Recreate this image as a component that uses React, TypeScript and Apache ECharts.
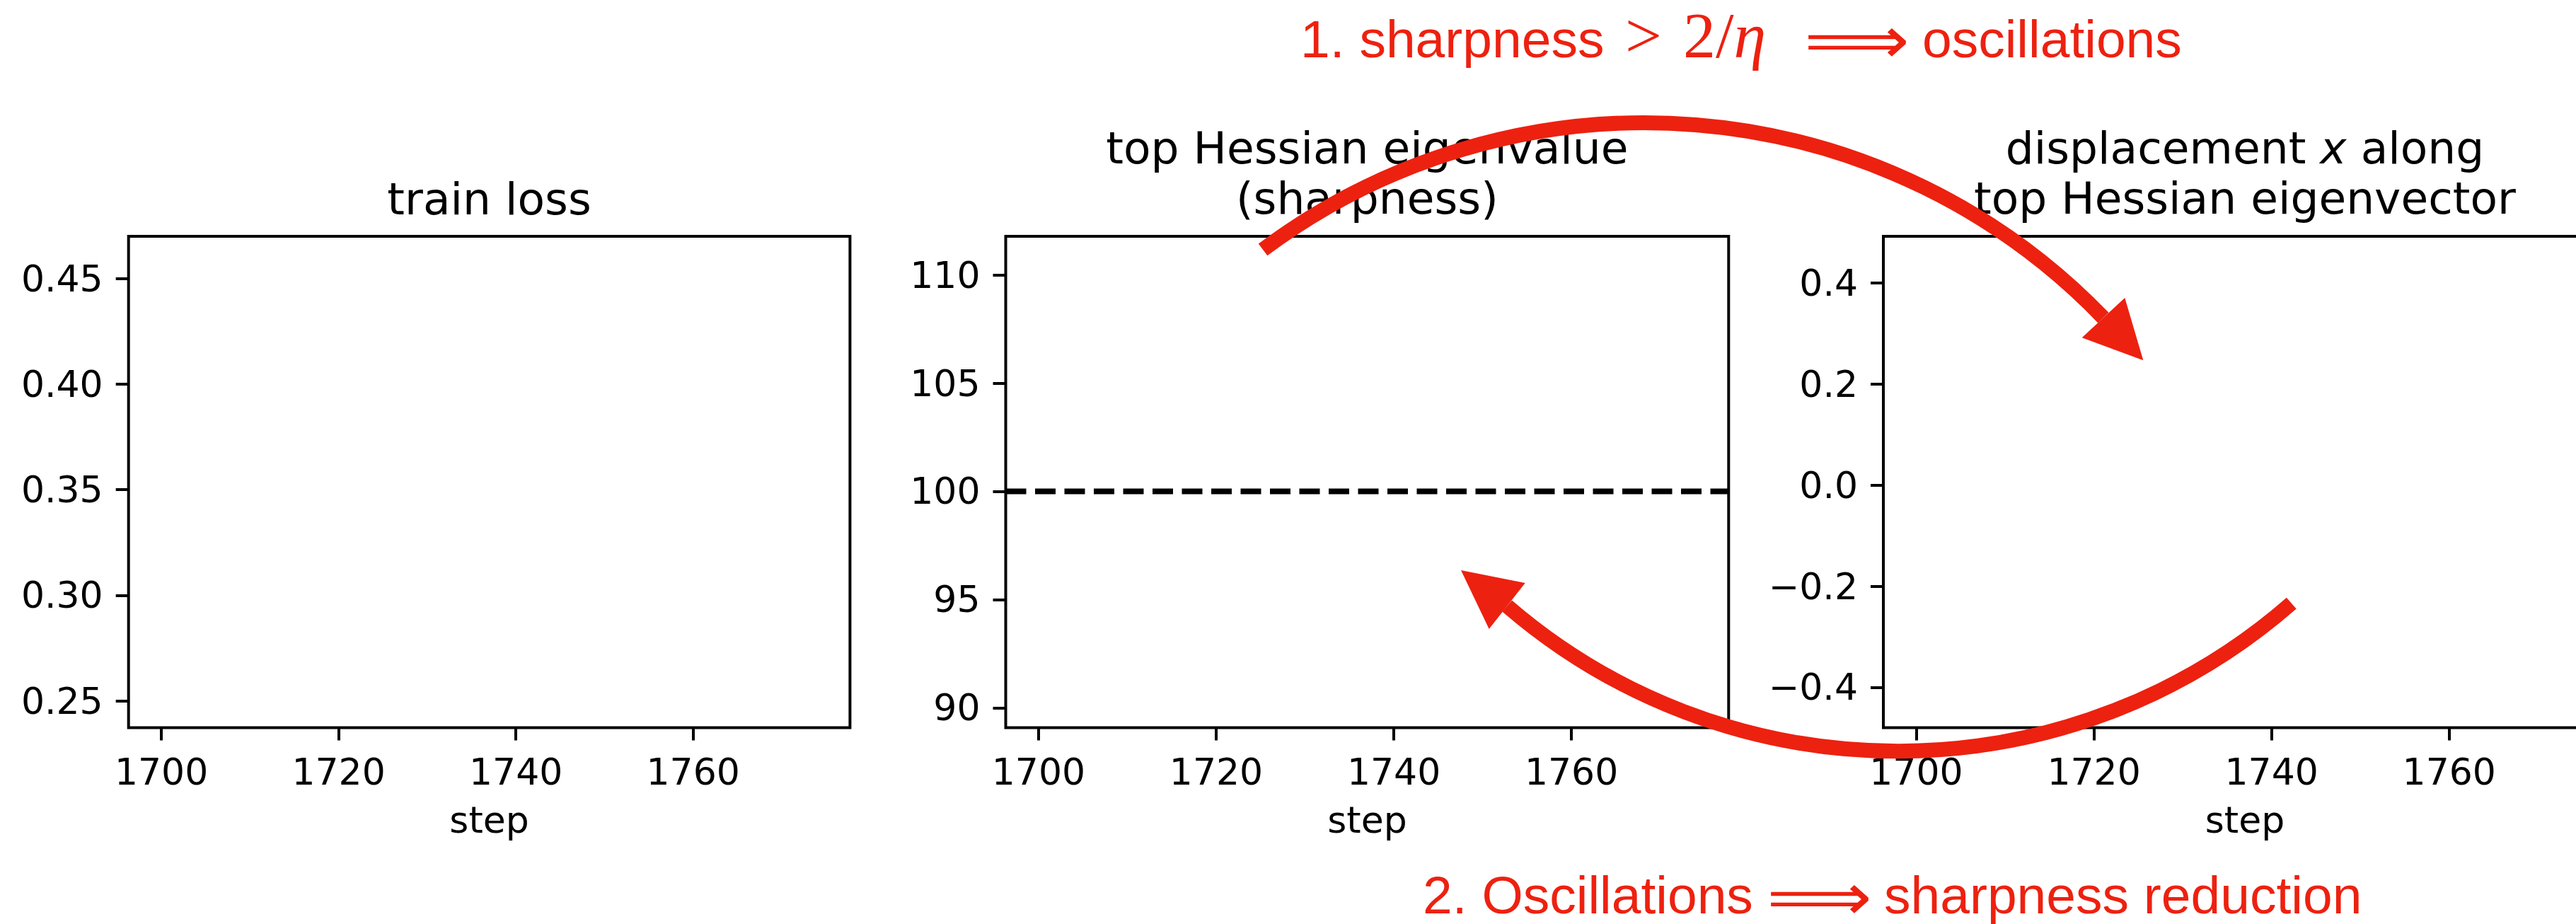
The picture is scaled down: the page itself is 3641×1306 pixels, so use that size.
import React, { useEffect, useRef } from "react";
import * as echarts from "echarts";

// ---------------- data ----------------
const STEP_TICKS = [1700, 1720, 1740, 1760];
const STEP_RANGE = [1696.3, 1777.7];

const LOSS_TICKS = [0.25, 0.3, 0.35, 0.4, 0.45];
const LOSS_RANGE = [0.2373, 0.47];

const SHARP_TICKS = [90, 95, 100, 105, 110];
const SHARP_RANGE = [89.08, 111.785];

const DISP_TICKS = [-0.4, -0.2, 0.0, 0.2, 0.4];
const DISP_RANGE = [-0.4801, 0.4926];

// 2 / eta threshold
const THRESHOLD = 100;

// curves are not drawn in this frame
const trainLoss: [number, number][] = [];
const sharpness: [number, number][] = [];
const displacement: [number, number][] = [];

const TITLES: string[][] = [
  ["train loss"],
  ["top Hessian eigenvalue", "(sharpness)"],
  ["{n|displacement }{i|x}{n| along}", "top Hessian eigenvector"],
];
const X_NAME = "step";
const NOTE_1 = ["1. sharpness", ">", "{r|2/}{i|η}", "⟹", "oscillations"];
const NOTE_2 = ["2. Oscillations", "⟹", "sharpness reduction"];

// ---------------- style ----------------
const RED = "#ED2110";
const SANS = "DejaVu Sans";
const TICK_FS = 52;
const TITLE_FS = 63;
const GRIDS = [
  { left: 181.7, width: 1019.7 },
  { left: 1421.5, width: 1021.8 },
  { left: 2662, width: 1022 },
];
const GRID_TOP = 334;
const GRID_H = 694.5;

export default function App() {
  const ref = useRef<HTMLDivElement>(null);

  useEffect(() => {
    if (!ref.current) return;
    const chart = echarts.init(ref.current, undefined, { renderer: "svg" });

    const yRanges = [LOSS_RANGE, SHARP_RANGE, DISP_RANGE];
    const yTicks = [LOSS_TICKS, SHARP_TICKS, DISP_TICKS];
    const yFmt = [
      (v: number) => v.toFixed(2),
      (v: number) => String(Math.round(v)),
      (v: number) => v.toFixed(1).replace("-", "\u2212"),
    ];

    const labelStyle = {
      color: "#000",
      fontSize: TICK_FS,
      fontFamily: SANS,
    };
    const tickStyle = { length: 18, inside: false, lineStyle: { color: "#000", width: 4 } };

    const titleEls: any[] = [];
    TITLES.forEach((lines, i) => {
      const cx = GRIDS[i].left + GRIDS[i].width / 2;
      const baselines = lines.length === 1 ? [303.75] : [231, 302.7];
      lines.forEach((t, j) => {
        titleEls.push({
          type: "text",
          x: i === 2 ? 3173 : cx,
          y: baselines[j] - 0.346 * TITLE_FS,
          z: 10,
          style: {
            text: t,
            fill: "#000",
            fontSize: TITLE_FS,
            fontFamily: SANS,
            align: "center",
            verticalAlign: "middle",
            rich: {
              n: { fontSize: TITLE_FS, fontFamily: SANS, fill: "#000" },
              i: { fontSize: TITLE_FS, fontFamily: SANS, fontStyle: "italic", fill: "#000" },
            },
          },
        });
      });
    });

    const sansNote = (text: string, x: number, y: number) => ({
      type: "text",
      x,
      y,
      z: 20,
      style: {
        text,
        fill: RED,
        fontSize: 75,
        fontFamily: "Liberation Sans",
        align: "left",
        verticalAlign: "middle",
      },
    });
    const arrowNote = (x: number, y: number) => ({
      type: "text",
      x,
      y,
      scaleX: 1.62,
      scaleY: 1.45,
      z: 20,
      style: {
        text: NOTE_2[1],
        fill: RED,
        fontSize: 64,
        fontFamily: SANS,
        align: "center",
        verticalAlign: "middle",
      },
    });

    const noteEls: any[] = [
      sansNote(NOTE_1[0], 1838, 80.7 - 26),
      {
        type: "text",
        x: 2323,
        y: 80.7 - 31,
        z: 20,
        style: {
          text: NOTE_1[1],
          fill: RED,
          fontSize: 92,
          fontFamily: "Liberation Serif",
          align: "center",
          verticalAlign: "middle",
        },
      },
      {
        type: "text",
        x: 2379,
        y: 80.7 - 31,
        z: 20,
        style: {
          text: NOTE_1[2],
          fill: RED,
          align: "left",
          verticalAlign: "middle",
          rich: {
            r: { fontSize: 92, fontFamily: "Liberation Serif", fill: RED },
            i: { fontSize: 92, fontFamily: "Liberation Serif", fontStyle: "italic", fill: RED },
          },
        },
      },
      arrowNote(2624.5, 57),
      sansNote(NOTE_1[4], 2717, 80.7 - 26),
      sansNote(NOTE_2[0], 2011, 1290.5 - 26),
      arrowNote(2571.5, 1268),
      sansNote(NOTE_2[2], 2663, 1290.5 - 26),
    ];

    const arrowEls: any[] = [
      {
        type: "arc",
        z: 30,
        shape: { cx: 2324.5, cy: 1074, r: 900.5, startAngle: -2.2131, endAngle: -0.7669, clockwise: true },
        style: { stroke: RED, lineWidth: 21, fill: "none", lineCap: "butt" },
      },
      {
        type: "polygon",
        z: 31,
        shape: { points: [[3003.3, 421], [2942.7, 477.3], [3029.3, 509.3]] },
        style: { fill: RED, stroke: "none" },
      },
      {
        type: "arc",
        z: 30,
        shape: { cx: 2682.3, cy: 216.4, r: 845.3, startAngle: 0.8522, endAngle: 2.2826, clockwise: true },
        style: { stroke: RED, lineWidth: 21, fill: "none", lineCap: "butt" },
      },
      {
        type: "polygon",
        z: 31,
        shape: { points: [[2065, 806], [2155.7, 824], [2104.7, 889]] },
        style: { fill: RED, stroke: "none" },
      },
    ];

    const option: any = {
      animation: false,
      backgroundColor: "#fff",
      grid: GRIDS.map((g) => ({
        left: g.left,
        top: GRID_TOP,
        width: g.width,
        height: GRID_H,
        show: true,
        borderColor: "#000",
        borderWidth: 4,
        backgroundColor: "transparent",
        containLabel: false,
        outerBoundsMode: "none",
      })),
      xAxis: GRIDS.map((_, i) => ({
        type: "value",
        gridIndex: i,
        min: STEP_RANGE[0],
        max: STEP_RANGE[1],
        splitLine: { show: false },
        axisLine: { show: false, onZero: false },
        axisTick: { ...tickStyle, show: true, customValues: STEP_TICKS },
        axisLabel: {
          ...labelStyle,
          margin: 36,
          customValues: STEP_TICKS,
          formatter: (v: number) => String(Math.round(v)),
        },
        name: X_NAME,
        nameLocation: "middle",
        nameGap: 104,
        nameTextStyle: { color: "#000", fontSize: TICK_FS, fontFamily: SANS },
      })),
      yAxis: GRIDS.map((_, i) => ({
        type: "value",
        gridIndex: i,
        min: yRanges[i][0],
        max: yRanges[i][1],
        splitLine: { show: false },
        axisLine: { show: false, onZero: false },
        axisTick: { ...tickStyle, show: true, customValues: yTicks[i] },
        axisLabel: {
          ...labelStyle,
          margin: 36,
          customValues: yTicks[i],
          formatter: yFmt[i],
        },
      })),
      series: [
        { type: "line", xAxisIndex: 0, yAxisIndex: 0, data: trainLoss, showSymbol: false },
        { type: "line", xAxisIndex: 1, yAxisIndex: 1, data: sharpness, showSymbol: false },
        { type: "line", xAxisIndex: 2, yAxisIndex: 2, data: displacement, showSymbol: false },
        {
          type: "line",
          xAxisIndex: 1,
          yAxisIndex: 1,
          data: [
            [STEP_RANGE[0], THRESHOLD],
            [STEP_RANGE[1], THRESHOLD],
          ],
          symbol: "none",
          silent: true,
          lineStyle: { color: "#000", width: 8, type: [29, 12.5] },
        },
      ],
      graphic: [...titleEls, ...noteEls, ...arrowEls],
    };

    chart.setOption(option);
    return () => chart.dispose();
  }, []);

  return (
    <div
      ref={ref}
      style={{ position: "absolute", left: 0, top: 0, width: 3641, height: 1306, background: "#fff" }}
    />
  );
}
